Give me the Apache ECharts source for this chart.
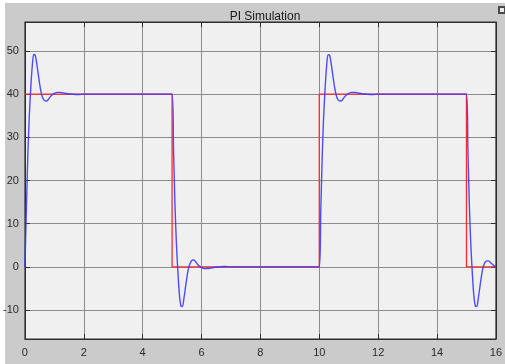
<!DOCTYPE html>
<html>
<head>
<meta charset="utf-8">
<script src="https://cdn.jsdelivr.net/npm/echarts@6/dist/echarts.min.js"></script>
<style>
html,body{margin:0;padding:0;background:#ffffff;}
#chart{width:505px;height:364px;}
</style>
</head>
<body>
<div id="chart"></div>
<script>
// Reference (setpoint) signal
const refTime  = [0, 5, 5, 10, 10, 15, 15, 16];
const refValue = [40, 40, 0, 0, 40, 40, 0, 0];

// Simulated response
const respTime = [
  0, 0.05, 0.1, 0.15, 0.2, 0.25, 0.3, 0.35, 0.4, 0.45, 0.5, 0.55, 0.6, 0.65, 0.7, 0.75, 0.8, 0.9, 1.0, 1.1, 1.2, 1.3, 1.45, 1.6, 1.8, 2.0, 3.0, 4.0,
  5.0, 5.05, 5.1, 5.15, 5.2, 5.25, 5.3, 5.35, 5.4, 5.45, 5.5, 5.55, 5.6, 5.65, 5.7, 5.75, 5.8, 5.9, 6.0, 6.1, 6.2, 6.3, 6.45, 6.6, 6.8, 7.0, 8.0, 9.0,
  10.0, 10.05, 10.1, 10.15, 10.2, 10.25, 10.3, 10.35, 10.4, 10.45, 10.5, 10.55, 10.6, 10.65, 10.7, 10.75, 10.8, 10.9, 11.0, 11.1, 11.2, 11.3, 11.45, 11.6, 11.8, 12.0, 13.0, 14.0,
  15.0, 15.05, 15.1, 15.15, 15.2, 15.25, 15.3, 15.35, 15.4, 15.45, 15.5, 15.55, 15.6, 15.65, 15.7, 15.75, 15.8, 15.9, 16.0
];
const respValue = [
  0, 13, 26, 35, 41.5, 46.5, 49.2, 49.0, 47.2, 44.8, 42.4, 40.4, 39.2, 38.6, 38.4, 38.45, 38.8, 39.7, 40.2, 40.4, 40.4, 40.3, 40.1, 40.0, 39.9, 40.0, 40.0, 40.0,
  40.0, 27, 14, 5, -1.5, -6.5, -9.0, -9.2, -7.4, -5.0, -2.6, -0.6, 0.6, 1.3, 1.6, 1.55, 1.2, 0.3, -0.2, -0.4, -0.4, -0.3, -0.1, 0.0, 0.1, 0.0, 0.0, 0.0,
  0.0, 12.5, 25.5, 35, 41.5, 46.5, 49.1, 49.0, 47.3, 44.9, 42.5, 40.5, 39.2, 38.6, 38.4, 38.45, 38.8, 39.7, 40.2, 40.4, 40.4, 40.3, 40.1, 40.0, 39.9, 40.0, 40.0, 40.0,
  40.0, 27, 14, 5, -1.5, -6.5, -9.0, -9.2, -7.4, -5.0, -2.6, -0.6, 0.6, 1.2, 1.4, 1.4, 1.1, 0.5, 0.0
];

const xTickStep = 2;
const yLimits = [-16.7, 56.7];
const titleText = 'PI Simulation';

const refData = refTime.map((t, i) => [t, refValue[i]]);
const respData = respTime.map((t, i) => [t, respValue[i]]);

const chart = echarts.init(document.getElementById('chart'), null, {renderer: 'canvas'});
const font = 'Arial, "Liberation Sans", sans-serif';
const axisBase = {
  axisLine: {show: true, onZero: false, lineStyle: {color: '#2e2e2e', width: 1}},
  axisTick: {show: true, inside: true, length: 5, lineStyle: {color: '#2e2e2e'}},
  splitLine: {show: true, lineStyle: {color: '#8c8c8c', width: 1}}
};
chart.setOption({
  animation: false,
  backgroundColor: '#ffffff',
  graphic: [
    {type: 'rect', z: -10, shape: {x: 5, y: 3, width: 500, height: 361}, style: {fill: '#cbcbcb'}},
    {type: 'rect', z: 10, shape: {x: 498, y: 6, width: 7, height: 8}, style: {fill: '#4a4a4a'}},
    {type: 'rect', z: 11, shape: {x: 500, y: 8, width: 4, height: 4}, style: {fill: '#e8e8e8'}}
  ],
  title: {
    text: titleText,
    left: 260, top: 6, textAlign: 'center',
    textStyle: {fontSize: 12, fontWeight: 'normal', color: '#1a1a1a', fontFamily: font}
  },
  grid: {left: 23, right: 8, top: 22, bottom: 25, show: true, backgroundColor: '#f0f0f0', borderColor: '#2e2e2e', borderWidth: 1},
  xAxis: [
    Object.assign({}, axisBase, {
      type: 'value', min: 0, max: 16, interval: xTickStep, position: 'bottom',
      axisLabel: {color: '#2a2a2a', fontSize: 11, margin: 8, fontFamily: font}
    }),
    Object.assign({}, axisBase, {
      type: 'value', min: 0, max: 16, interval: xTickStep, position: 'top',
      axisLabel: {show: false}, splitLine: {show: false}
    })
  ],
  yAxis: [
    Object.assign({}, axisBase, {
      type: 'value', min: yLimits[0], max: yLimits[1], splitNumber: 7, position: 'left',
      axisLabel: {color: '#2a2a2a', fontSize: 11, margin: 6, fontFamily: font, showMinLabel: false, showMaxLabel: false}
    }),
    Object.assign({}, axisBase, {
      type: 'value', min: yLimits[0], max: yLimits[1], splitNumber: 7, position: 'right',
      axisLabel: {show: false}, splitLine: {show: false}
    })
  ],
  series: [
    {
      type: 'line', name: 'reference', data: refData, showSymbol: false, symbol: 'none',
      lineStyle: {color: '#ff2a2a', width: 1.3}, z: 3
    },
    {
      type: 'line', name: 'response', data: respData, showSymbol: false, symbol: 'none', smooth: 0.3,
      lineStyle: {color: '#3a3aff', width: 1.4, opacity: 0.9}, z: 4
    }
  ]
});
</script>
</body>
</html>
